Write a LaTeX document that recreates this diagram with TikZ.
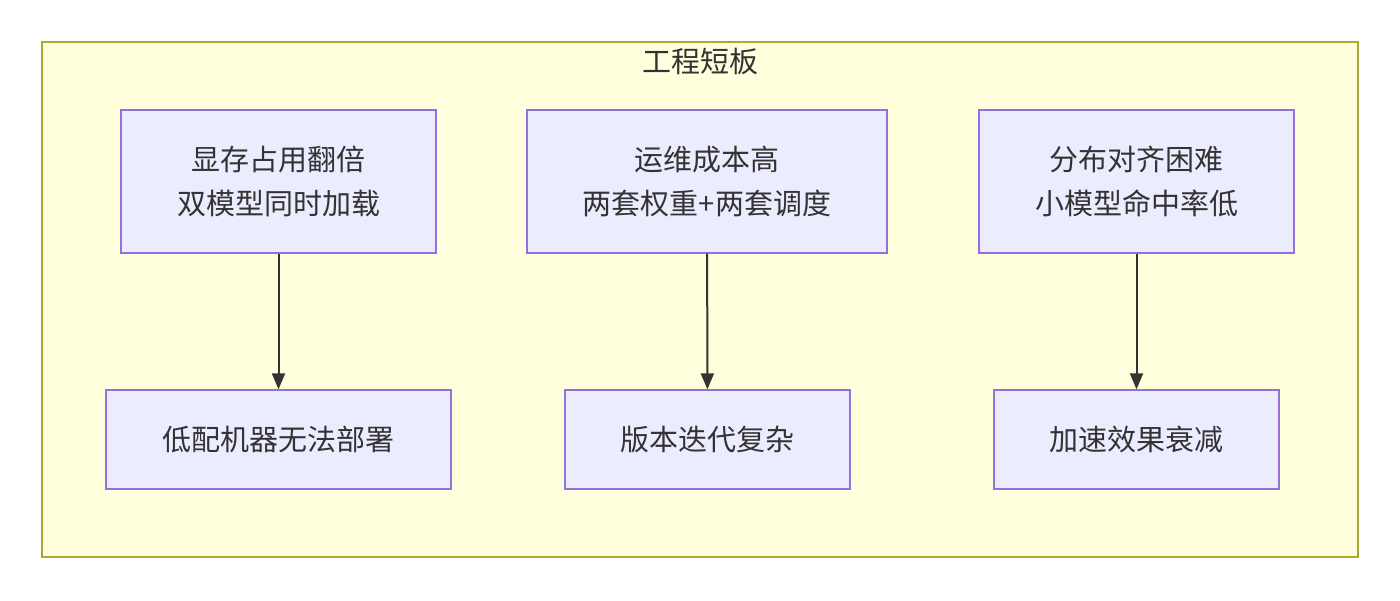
\documentclass[tikz,border=0pt]{standalone}
\usepackage{fontspec}
\setmainfont{Noto Sans CJK SC}
\usetikzlibrary{arrows.meta}
\definecolor{grpfill}{HTML}{FFFFDE}
\definecolor{grpline}{HTML}{AAAA33}
\definecolor{boxfill}{HTML}{ECECFF}
\definecolor{boxline}{HTML}{9370DB}
\definecolor{arr}{HTML}{333333}
\begin{document}
\begin{tikzpicture}[x=1pt,y=-1pt,
  box/.style={draw=boxline,fill=boxfill,line width=1.3pt,align=center,font=\fontsize{29}{44}\selectfont,text=arr},
  conn/.style={draw=arr,line width=2pt,-{Triangle[length=16pt,width=13pt]}}]
\useasboundingbox (0,0) rectangle (1400,600);
\draw[draw=grpline,fill=grpfill,line width=1.3pt] (42,42) rectangle (1358,557);
\node[font=\fontsize{29}{34}\selectfont,text=arr] (title) at (700,62) {工程短板};
\node[box,minimum width=315pt,minimum height=143pt] (a1) at (278.5,181.5) {显存占用翻倍\\双模型同时加载};
\node[box,minimum width=360pt,minimum height=143pt] (b1) at (707,181.5) {运维成本高\\两套权重+两套调度};
\node[box,minimum width=315pt,minimum height=143pt] (c1) at (1136.5,181.5) {分布对齐困难\\小模型命中率低};
\node[box,minimum width=345pt,minimum height=99pt] (a2) at (278.5,439.5) {低配机器无法部署};
\node[box,minimum width=285pt,minimum height=99pt] (b2) at (707.5,439.5) {版本迭代复杂};
\node[box,minimum width=285pt,minimum height=99pt] (c2) at (1136.5,439.5) {加速效果衰减};
\draw[conn] (a1) -- (a2);
\draw[conn] (b1) -- (b2);
\draw[conn] (c1) -- (c2);
\end{tikzpicture}
\end{document}
